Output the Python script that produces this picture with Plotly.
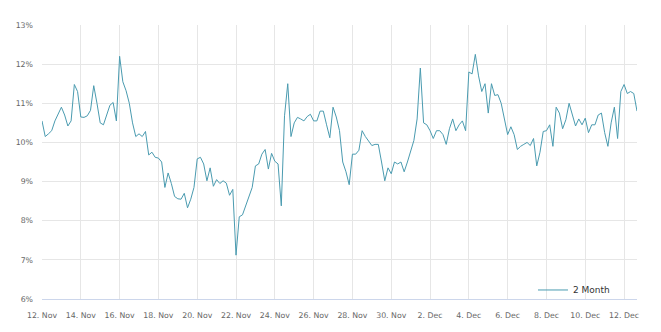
import pandas as pd
import plotly.graph_objects as go

# 2-month rate, sampled every 4 hours from 12 Nov 00:00
start = "2023-11-12 00:00"
step = "4h"
rate_2m = [
    10.55, 10.15, 10.22, 10.3, 10.55, 10.75,   # 12 Nov
    10.9, 10.7, 10.42, 10.55, 11.48, 11.3,     # 13 Nov
    10.65, 10.64, 10.68, 10.82, 11.45, 11.0,   # 14 Nov
    10.5, 10.45, 10.72, 10.95, 11.02, 10.55,   # 15 Nov
    12.2, 11.55, 11.32, 11.0, 10.5, 10.15,     # 16 Nov
    10.22, 10.15, 10.28, 9.68, 9.75, 9.62,     # 17 Nov
    9.6, 9.5, 8.85, 9.22, 8.95, 8.62,          # 18 Nov
    8.56, 8.55, 8.7, 8.33, 8.55, 8.85,         # 19 Nov
    9.58, 9.62, 9.45, 9.02, 9.35, 8.88,        # 20 Nov
    9.05, 8.95, 9.02, 8.96, 8.65, 8.8,         # 21 Nov
    7.12, 8.1, 8.15, 8.38, 8.6, 8.85,          # 22 Nov
    9.4, 9.45, 9.7, 9.82, 9.32, 9.72,          # 23 Nov
    9.52, 9.45, 8.38, 10.68, 11.5, 10.15,      # 24 Nov
    10.5, 10.64, 10.6, 10.55, 10.66, 10.72,    # 25 Nov
    10.55, 10.55, 10.8, 10.8, 10.45, 10.12,    # 26 Nov
    10.9, 10.65, 10.3, 9.5, 9.25, 8.92,        # 27 Nov
    9.7, 9.7, 9.8, 10.3, 10.15, 10.05,         # 28 Nov
    9.92, 9.95, 9.95, 9.5, 9.02, 9.35,         # 29 Nov
    9.2, 9.5, 9.45, 9.5, 9.25, 9.5,            # 30 Nov
    9.8, 10.05, 10.6, 11.9, 10.5, 10.45,       # 1 Dec
    10.3, 10.1, 10.3, 10.3, 10.2, 9.95,        # 2 Dec
    10.35, 10.6, 10.3, 10.45, 10.55, 10.3,     # 3 Dec
    11.8, 11.75, 12.25, 11.7, 11.3, 11.5,      # 4 Dec
    10.75, 11.5, 11.2, 11.22, 11.0, 10.6,      # 5 Dec
    10.2, 10.4, 10.2, 9.82, 9.9, 9.95,         # 6 Dec
    10.0, 9.92, 10.1, 9.4, 9.75, 10.28,        # 7 Dec
    10.3, 10.45, 9.9, 10.9, 10.75, 10.35,      # 8 Dec
    10.58, 11.0, 10.68, 10.42, 10.6, 10.45,    # 9 Dec
    10.62, 10.25, 10.45, 10.45, 10.7, 10.75,   # 10 Dec
    10.25, 9.9, 10.5, 10.9, 10.1, 11.3,        # 11 Dec
    11.48, 11.25, 11.3, 11.25, 10.8,           # 12 Dec
]
times = pd.date_range(start=start, periods=len(rate_2m), freq=step)

y_ticks = [6, 7, 8, 9, 10, 11, 12, 13]
y_tick_labels = [f"{v}%" for v in y_ticks]
series_name = "2 Month"

FONT = "Lucida Grande, DejaVu Sans, sans-serif"

fig = go.Figure()
fig.add_trace(go.Scatter(
    x=times, y=rate_2m, mode="lines", name=series_name,
    line=dict(color="#4a9bb0", width=1),
    showlegend=True,
))

fig.update_layout(
    width=661, height=332,
    margin=dict(l=42, r=24, t=25, b=23),
    paper_bgcolor="white", plot_bgcolor="white",
    font=dict(family=FONT, size=8, color="#666666"),
    legend=dict(
        x=0.963, y=-0.02, xanchor="right", yanchor="bottom",
        bgcolor="rgba(0,0,0,0)", font=dict(size=9, color="#333333"),
        itemwidth=30,
    ),
    hovermode=False,
)
fig.update_xaxes(
    type="date",
    range=[times[0], times[-1]],
    tickformat="%-d. %b",
    dtick=2 * 86400000, tick0=start,
    showgrid=True, gridcolor="#e6e6e6", gridwidth=1,
    showline=True, linecolor="#ccd6eb", linewidth=1,
    ticks="", ticklabelstandoff=9,
    tickfont=dict(size=7.8, color="#666666"),
    zeroline=False,
)
fig.update_yaxes(
    range=[6, 13],
    tickmode="array", tickvals=y_ticks, ticktext=y_tick_labels,
    showgrid=True, gridcolor="#e6e6e6", gridwidth=1,
    ticks="", ticklabelstandoff=8,
    tickfont=dict(size=7.8, color="#666666"),
    zeroline=False,
)

fig.write_html("out.html")
